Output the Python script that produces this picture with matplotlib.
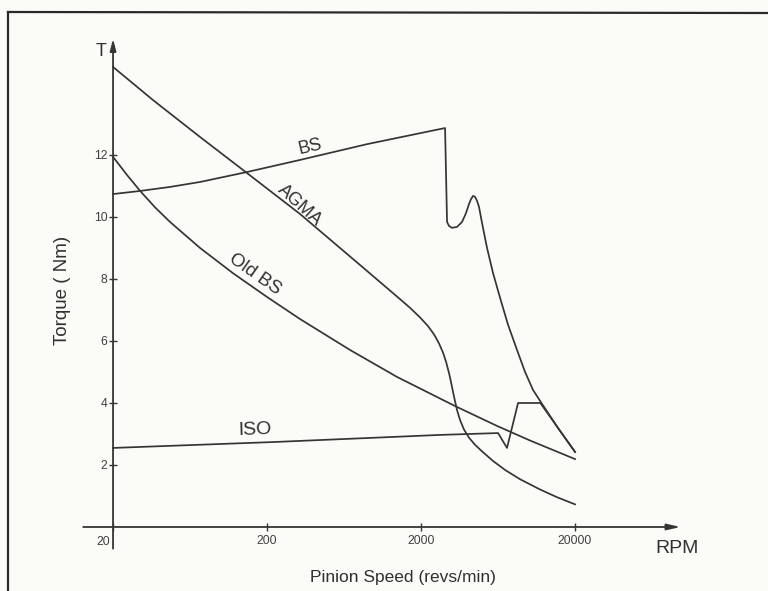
import matplotlib
matplotlib.use("Agg")
import matplotlib.pyplot as plt
from matplotlib.lines import Line2D
from matplotlib.ticker import NullLocator, FixedLocator, FixedFormatter

# values (rpm, torque in Nm)
agma_rpm = [20, 36.4, 73.5, 148, 327, 804, 1084, 1461, 1697, 1970, 2220, 2430, 2618, 2780, 2906, 3040,
            3132, 3228, 3330, 3426, 3584, 3804, 4098, 4484, 5054, 5868, 7024, 8790, 11850, 15280, 20000]
agma_t = [14.84, 13.77, 12.58, 11.42, 10.10, 8.45, 7.90, 7.35, 7.07, 6.76, 6.48, 6.21, 5.92, 5.62, 5.33, 4.96,
          4.67, 4.35, 4.04, 3.77, 3.45, 3.14, 2.88, 2.65, 2.41, 2.13, 1.84, 1.54, 1.21, 0.96, 0.73]

bs_rpm = [20, 30, 46.9, 73.5, 148, 327, 892, 2864, 2950, 3040, 3180, 3426, 3692, 3920, 4098, 4224, 4352,
          4484, 4620, 4760, 4906, 5130, 5366, 5868, 6520, 7346, 8400, 9472, 10670, 12210, 15510, 20000]
bs_t = [10.74, 10.84, 10.97, 11.13, 11.45, 11.84, 12.35, 12.87, 9.84, 9.71, 9.65, 9.68, 9.84, 10.13, 10.42,
        10.58, 10.68, 10.65, 10.52, 10.32, 9.97, 9.48, 9.00, 8.19, 7.39, 6.52, 5.71, 5.00, 4.42, 3.97, 3.19, 2.42]

old_bs_rpm = [20, 24.7, 30, 37.5, 46.9, 73.5, 120, 200, 327, 692, 1397, 3330, 6230, 10200, 20000]
old_bs_t = [11.94, 11.35, 10.84, 10.31, 9.84, 9.00, 8.19, 7.42, 6.71, 5.71, 4.84, 3.90, 3.26, 2.79, 2.19]

iso_rpm = [20, 219, 2656, 6325, 7230, 8530, 11900, 20000]
iso_t = [2.55, 2.74, 2.97, 3.03, 2.55, 4.00, 4.00, 2.42]

x_ticks = [20, 200, 2000, 20000]
y_ticks = [2, 4, 6, 8, 10, 12]

INK = "#353535"
TXT = "#303030"
plt.rcParams["font.family"] = ["Liberation Sans", "DejaVu Sans"]

fig = plt.figure(figsize=(7.68, 5.91), dpi=100, facecolor="#fbfbf8")
ax = fig.add_axes([0, 0, 1, 1])
ax.set_facecolor("#fbfbf8")
ax.set_xscale("log")
ax.set_xlim(3.69, 358000)
ax.set_ylim(-2.065, 17.0)

for xs, ys in [(agma_rpm, agma_t), (bs_rpm, bs_t), (old_bs_rpm, old_bs_t), (iso_rpm, iso_t)]:
    ax.plot(xs, ys, color=INK, lw=1.25, solid_joinstyle="round")

# axes drawn as arrows through the origin
for s in ["top", "right"]:
    ax.spines[s].set_visible(False)
ax.spines["left"].set_position(("data", 20))
ax.spines["bottom"].set_position(("data", 0))
ax.spines["left"].set_color("none")
ax.spines["bottom"].set_color("none")
ax.annotate("", xy=(20, 15.75), xytext=(20, -0.7),
            arrowprops=dict(arrowstyle="-|>,head_length=0.7,head_width=0.18", color=INK, lw=1.3,
                            shrinkA=0, shrinkB=0))
ax.annotate("", xy=(97000, 0), xytext=(12.8, 0),
            arrowprops=dict(arrowstyle="-|>,head_length=0.8,head_width=0.18", color=INK, lw=1.3,
                            shrinkA=0, shrinkB=0))

ax.xaxis.set_minor_locator(NullLocator())
ax.xaxis.set_major_locator(FixedLocator(x_ticks))
ax.xaxis.set_major_formatter(FixedFormatter([""] + [str(v) for v in x_ticks[1:]]))
ax.set_yticks(y_ticks)
ax.set_yticklabels([str(v) for v in y_ticks])
ax.tick_params(axis="both", direction="inout", length=6, width=1.0, color=INK,
               labelcolor="#404040", labelsize=8.8)
ax.tick_params(axis="y", pad=1)
ax.tick_params(axis="x", pad=3)

ax.text(x_ticks[0] * 0.96, -0.3, str(x_ticks[0]), ha="right", va="top", fontsize=8.8, color="#404040")

ax.text(16.8, 15.35, "T", ha="center", va="center", fontsize=13, color=TXT)
ax.text(91900, -0.68, "RPM", ha="center", va="center", fontsize=14, color=TXT)

ax.set_xlabel("Pinion Speed (revs/min)", fontsize=12.5, color=TXT)
ax.xaxis.label.set_va("center")
ax.xaxis.set_label_coords(0.525, 0.022)
ax.set_ylabel("Torque ( Nm)", fontsize=13.5, color=TXT)
ax.yaxis.label.set_va("center")
ax.yaxis.set_label_coords(0.082, 0.509)

# curve labels
ax.text(380, 12.26, "BS", rotation=13, ha="center", va="center", fontsize=13, color=TXT)
ax.text(327, 10.39, "AGMA", rotation=-42, ha="center", va="center", fontsize=13, color=TXT)
ax.text(167, 8.16, "Old BS", rotation=-35, ha="center", va="center", fontsize=13.5, color=TXT)
ax.text(167, 3.13, "ISO", rotation=2, ha="center", va="center", fontsize=14, color=TXT)

# scanned page frame
fig.add_artist(Line2D([8 / 768, 8 / 768], [0, 1 - 12 / 591], color="#2a2a2a", lw=1.6))
fig.add_artist(Line2D([8 / 768, 1], [1 - 12 / 591, 1 - 13 / 591], color="#2a2a2a", lw=1.6))

fig.savefig("out.png", dpi=100, facecolor=fig.get_facecolor())
